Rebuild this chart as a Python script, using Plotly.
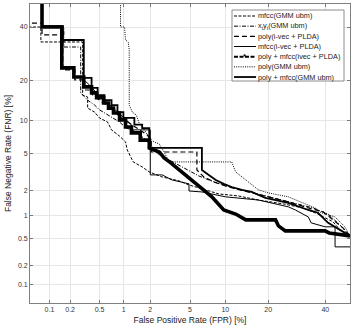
import plotly.graph_objects as go
from statistics import NormalDist

# ---- data (percent) ----
tick_vals = [0.1, 0.2, 0.5, 1, 2, 5, 10, 20, 40]
tick_text = ["0.1", "0.2", "0.5", "1", "2", "5", "10", "20", "40"]
axis_min, axis_max = 0.05, 50.0

# mfcc(GMM ubm)
mfcc_gmm_fpr = [0.04, 0.074, 0.074, 0.299, 0.299, 0.349, 0.349, 0.432, 0.50, 0.633, 0.71, 0.89, 1.05, 1.10, 1.29, 1.63, 1.95, 2.67, 3.94, 4.89, 6.01, 8.86, 12.6, 17.3, 24.7, 31.5, 37.1, 43.1, 45.9, 50]
mfcc_gmm_fnr = [40.0, 40.0, 33.8, 33.8, 15.8, 15.3, 12.6, 11.7, 10.5, 9.7, 8.3, 7.3, 6.45, 5.4, 4.11, 3.65, 3.23, 2.85, 2.58, 2.32, 2.15, 1.83, 1.73, 1.55, 1.39, 1.24, 1.04, 0.824, 0.646, 0.535]

# x_t y_t (GMM ubm)
xy_gmm_fpr = [0.077, 0.077, 0.163, 0.163, 0.281, 0.281, 0.349, 0.432, 0.50, 0.58, 0.73, 0.89, 1.075, 1.26, 1.52, 1.81, 2.05, 2.49, 3.14, 4.39, 6.01, 8.08, 11.6, 16.1, 21.6, 28.0, 35.2, 41.1, 45.9, 50]
xy_gmm_fnr = [60, 40, 40, 31.8, 31.8, 16.4, 14.5, 13.3, 12.2, 11.5, 10.5, 9.7, 8.6, 8.3, 7.5, 6.7, 5.91, 4.84, 4.31, 3.56, 2.92, 2.51, 2.15, 1.88, 1.64, 1.43, 1.24, 1.04, 0.75, 0.535]

# poly(i-vec + PLDA)
poly_ivec_fpr = [0.04, 0.077, 0.077, 0.157, 0.157, 0.233, 0.233, 0.319, 0.319, 0.407, 0.407, 0.50, 0.633, 0.77, 0.94, 1.16, 1.52, 1.85, 2.05, 2.05, 5.77, 5.77, 6.64, 8.08, 10.6, 14.8, 20.1, 26.3, 33.4, 39.1, 43.1, 47.1, 50]
poly_ivec_fnr = [41.7, 41.7, 36.7, 36.7, 23.4, 23.4, 20.2, 20.2, 17.2, 17.2, 15.8, 14.5, 13.1, 11.7, 10.5, 9.5, 8.3, 7.5, 6.7, 5.17, 5.17, 3.39, 2.85, 2.51, 2.2, 1.93, 1.69, 1.47, 1.24, 1.11, 0.875, 0.687, 0.535]

# mfcc(i-vec + PLDA)
mfcc_ivec_fpr = [0.077, 0.077, 0.157, 0.157, 0.309, 0.309, 0.371, 0.458, 0.58, 0.71, 0.84, 0.99, 1.23, 1.23, 2.0, 2.0, 2.67, 3.37, 4.89, 4.89, 6.39, 10.05, 17.3, 26.3, 28.7, 33.4, 34.5, 39.9, 43.9, 43.9, 50]
mfcc_ivec_fnr = [60, 40.4, 40.4, 34.6, 34.6, 20.2, 18.6, 16.4, 14.5, 12.9, 11.7, 10.5, 9.2, 8.3, 8.3, 3.0, 3.0, 2.64, 2.39, 1.98, 1.93, 1.69, 1.55, 1.28, 1.17, 0.956, 0.80, 0.71, 0.71, 0.376, 0.376]

# poly + mfcc(ivec + PLDA)
fused_ivec_fpr = [0.077, 0.077, 0.152, 0.152, 0.226, 0.226, 0.309, 0.309, 0.394, 0.394, 0.458, 0.458, 0.564, 0.564, 0.651, 0.651, 0.751, 0.751, 0.89, 0.89, 1.05, 1.05, 1.23, 1.23, 1.55, 1.55, 1.95, 1.95, 2.49, 2.8, 3.29, 3.94, 4.89, 6.01, 6.92, 7.77, 8.86, 9.71, 11.98, 14.2, 22.2, 23.1, 25.3, 39.9, 41.5, 50]
fused_ivec_fnr = [60, 40.0, 40.0, 24.1, 24.1, 21.1, 21.1, 18.1, 18.1, 16.4, 16.4, 15.1, 15.1, 13.8, 13.8, 12.6, 12.6, 11.5, 11.5, 10.1, 10.1, 8.8, 8.8, 7.8, 7.8, 6.7, 6.7, 5.66, 5.17, 4.51, 4.0, 3.39, 2.78, 2.2, 1.93, 1.69, 1.35, 1.17, 1.04, 0.875, 0.875, 0.73, 0.626, 0.626, 0.588, 0.535]

# poly(GMM ubm)
poly_gmm_fpr = [0.914, 0.914, 1.02, 1.05, 1.13, 1.16, 1.16, 1.26, 1.40, 1.52, 1.72, 1.95, 2.2, 2.49, 2.8, 3.14, 11.2, 11.98, 14.2, 17.3, 20.1, 26.3, 36.0, 38.3, 43.9, 47.9, 50]
poly_gmm_fnr = [60, 40, 40, 34.6, 33.8, 30.6, 13.3, 11.7, 11.1, 9.33, 8.3, 7.0, 6.45, 6.18, 5.17, 4.11, 4.11, 3.23, 2.64, 2.04, 1.88, 1.69, 1.24, 1.08, 0.956, 0.71, 0.535]

# poly + mfcc(GMM ubm)
fused_gmm_fpr = [0.077, 0.077, 0.157, 0.157, 0.309, 0.309, 0.394, 0.394, 0.473, 0.473, 0.58, 0.58, 0.71, 0.71, 0.84, 0.84, 0.99, 0.99, 1.33, 1.33, 1.63, 1.63, 1.95, 1.95, 6.39, 6.39, 7.32, 8.38, 9.71, 11.2, 13.3, 15.6, 19.2, 26.3, 33.4, 37.1, 41.1, 43.9, 50]
fused_gmm_fnr = [60, 40.4, 40.4, 34.6, 34.6, 20.8, 20.8, 17.8, 17.8, 15.8, 15.8, 14.5, 14.5, 13.3, 13.3, 11.7, 11.7, 10.5, 10.5, 9.2, 9.2, 8.6, 8.6, 5.66, 5.66, 3.39, 3.0, 2.64, 2.39, 2.2, 2.04, 1.93, 1.64, 1.43, 1.17, 1.08, 0.80, 0.71, 0.535]

series_names = [
    "mfcc(GMM ubm)",
    "x<sub>t</sub>y<sub>t</sub>(GMM ubm)",
    "poly(i-vec + PLDA)",
    "mfcc(i-vec + PLDA)",
    "poly + mfcc(ivec + PLDA)",
    "poly(GMM ubm)",
    "poly + mfcc(GMM ubm)",
]

# ---- helpers ----
_nd = NormalDist()


def probit(vals):
    return [_nd.inv_cdf(min(max(v / 100.0, 1e-6), 1 - 1e-6)) for v in vals]


series = [
    (mfcc_gmm_fpr, mfcc_gmm_fnr, 1.0, "3px,1.5px"),
    (xy_gmm_fpr, xy_gmm_fnr, 1.0, "4px,1.5px,1px,1.5px"),
    (poly_ivec_fpr, poly_ivec_fnr, 1.2, "5px,3px"),
    (mfcc_ivec_fpr, mfcc_ivec_fnr, 1.0, "solid"),
    (fused_ivec_fpr, fused_ivec_fnr, 3.6, "solid"),
    (poly_gmm_fpr, poly_gmm_fnr, 1.0, "1px,1.2px"),
    (fused_gmm_fpr, fused_gmm_fnr, 1.8, "solid"),
]

draw_order = [5, 0, 1, 2, 3, 6, 4]

fig = go.Figure()
for i in draw_order:
    fx, fy, w, d = series[i]
    fig.add_trace(go.Scatter(
        x=probit(fx), y=probit(fy), mode="lines", name=series_names[i],
        line=dict(color="black", width=w, dash=d, shape="linear"),
        hoverinfo="skip", showlegend=False,
    ))

font_family = "Liberation Sans, Arial, Helvetica, sans-serif"
rng = probit([axis_min, axis_max])
axis_common = dict(
    range=rng, tickmode="array", tickvals=probit(tick_vals), ticktext=tick_text,
    ticks="inside", ticklen=3, tickcolor="#777", tickwidth=0.8,
    showline=True, linecolor="#808080", linewidth=0.9, mirror="ticks",
    showgrid=True, gridcolor="#e6e6e6", gridwidth=0.7, zeroline=False,
    tickfont=dict(family=font_family, size=7, color="#333"),
)

fig.update_layout(
    width=358, height=333,
    margin=dict(l=30, r=8, t=4, b=30),
    paper_bgcolor="white", plot_bgcolor="white",
    showlegend=False,
    xaxis=dict(**axis_common, title=dict(text="False Positive Rate (FPR) [%]",
               font=dict(family=font_family, size=8.5, color="#222"), standoff=4)),
    yaxis=dict(**axis_common, title=dict(text="False Negative Rate (FNR) [%]",
               font=dict(family=font_family, size=8.5, color="#222"), standoff=4)),
)

# ---- manual legend (compact, MATLAB-like) ----
def px(X):
    return (X - 30) / 320.0


def py(Y):
    return (303 - Y) / 299.0


shapes = [dict(type="rect", xref="paper", yref="paper", x0=px(232), x1=px(344),
               y0=py(81), y1=py(10), fillcolor="white",
               line=dict(color="#808080", width=0.9), layer="above")]
annotations = []
for k in range(7):
    Y = 16 + k * 10.17
    _, _, w, d = series[k]
    lw = min(w, 2.0)
    if k == 4:
        d = "4px,1.5px"
    shapes.append(dict(type="line", xref="paper", yref="paper", x0=px(234), x1=px(256),
                       y0=py(Y), y1=py(Y), line=dict(color="black", width=lw, dash=d),
                       layer="above"))
    annotations.append(dict(xref="paper", yref="paper", x=px(257), y=py(Y),
                            xanchor="left", yanchor="middle", showarrow=False,
                            text=series_names[k], borderpad=0,
                            font=dict(family=font_family, size=7.3, color="#222")))
annotations.append(dict(xref="paper", yref="paper", x=px(245), y=py(16 + 4 * 10.17),
                        xanchor="center", yanchor="middle", showarrow=False,
                        text="<b>*</b>", borderpad=0,
                        font=dict(family=font_family, size=8, color="black")))

fig.update_layout(shapes=shapes, annotations=annotations)

fig.write_html("out.html")
